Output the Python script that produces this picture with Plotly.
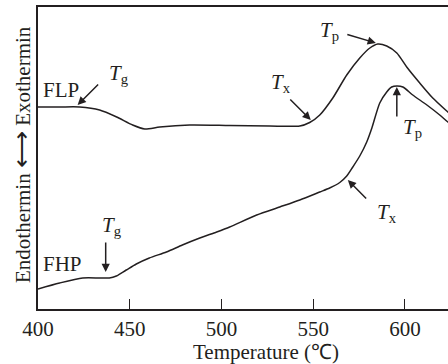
import plotly.graph_objects as go

# DSC curves (temperature in deg C, heat flow in arbitrary units)
flp_temp = [400.0, 411.8, 422.7, 433.6, 442.9, 451.6, 458.2, 466.4, 482.7, 504.5, 526.3, 542.7,
            548.1, 553.6, 560.7, 568.3, 575.4, 580.9, 585.2, 590.1, 595.6, 601.0, 608.1, 615.2, 623.4, 632.0]
flp_heat = [202, 202, 202, 199, 192, 184, 180, 182, 184, 183.5, 183, 183,
            186.5, 194, 211, 234, 251, 261, 265, 263, 256, 242, 226, 211, 197, 183]

fhp_temp = [400.0, 411.8, 424.4, 433.6, 438.9, 442.7, 448.1, 453.6, 460.7, 470.0, 478.7, 488.2,
            497.4, 504.5, 519.2, 531.8, 542.7, 553.6, 559.0, 564.5, 568.3, 571.6, 575.4, 579.2,
            582.0, 586.3, 590.1, 592.8, 595.6, 598.9, 604.3, 612.0, 619.0, 623.4, 632.0]
fhp_heat = [20, 26, 31, 31, 31, 33, 39, 45, 51, 57, 64, 71,
            77, 82, 94, 102, 109, 117, 121, 126.5, 133, 142, 153, 167,
            181, 206, 217, 222, 223, 222, 214, 204, 194, 187, 177]

x_ticks = [400, 450, 500, 550, 600]

INK = "#231f20"
FONT = "Liberation Serif, Times New Roman, serif"
FS = 21

fig = go.Figure()
for t, h in [(flp_temp, flp_heat), (fhp_temp, fhp_heat)]:
    fig.add_trace(go.Scatter(x=t, y=h, mode="lines",
                             line=dict(color=INK, width=1.5, shape="spline", smoothing=0.7),
                             showlegend=False, hoverinfo="skip"))

# labels (text, x, y)
labels = [
    ("FLP", 412.4, 219),
    ("<i>T</i><sub>g</sub>", 444.0, 235),
    ("<i>T</i><sub>x</sub>", 532.3, 226),
    ("<i>T</i><sub>p</sub>", 559.1, 278),
    ("<i>T</i><sub>p</sub>", 604.3, 181),
    ("<i>T</i><sub>x</sub>", 590.1, 96),
    ("FHP", 413.5, 45),
    ("<i>T</i><sub>g</sub>", 440.2, 83),
]
for txt, x, y in labels:
    fig.add_annotation(x=x, y=y, text=txt, showarrow=False, xref="x", yref="y",
                       font=dict(family=FONT, size=FS, color=INK), xanchor="center", yanchor="middle")

# arrows (tail x, tail y, tip x, tip y)
arrows = [
    (433.6, 226, 421.6, 204),
    (536.7, 211, 548.7, 189),
    (567.8, 275, 584.2, 266),
    (595.6, 191, 595.6, 222),
    (579.7, 109, 568.9, 129),
    (436.9, 68, 436.9, 37),
]
for ax, ay, x, y in arrows:
    fig.add_annotation(x=x, y=y, ax=ax, ay=ay, xref="x", yref="y", axref="x", ayref="y",
                       text="", showarrow=True, arrowhead=2, arrowsize=1.1, arrowwidth=1.5,
                       arrowcolor=INK)

fig.add_annotation(text="Endothermin <span style='font-size:26px'>⟷</span> Exothermin",
                   xref="paper", yref="paper", x=0, y=0.5,
                   xshift=-17, yshift=3, textangle=-90, showarrow=False,
                   font=dict(family=FONT, size=FS, color=INK), xanchor="center", yanchor="middle")

fig.add_annotation(text="Temperature (℃)", xref="paper", yref="paper", x=0.556, y=0,
                   yshift=-43, showarrow=False, xanchor="center", yanchor="middle",
                   font=dict(family=FONT, size=FS, color=INK))

fig.update_layout(
    width=448, height=364,
    margin=dict(l=38, r=0, t=7, b=55),
    plot_bgcolor="white", paper_bgcolor="white",
    font=dict(family=FONT, size=FS, color=INK),
    xaxis=dict(range=[400, 623.5], tickvals=x_ticks, ticktext=[str(v) for v in x_ticks],
               ticks="inside", ticklen=10, tickwidth=1.2, tickcolor=INK,
               showline=True, linecolor=INK, linewidth=1.5, mirror=True, showgrid=False, zeroline=False,
               tickfont=dict(family=FONT, size=FS, color=INK)),
    yaxis=dict(range=[0, 302], showticklabels=False, ticks="", showline=True, linecolor=INK, linewidth=1.5,
               showgrid=False, zeroline=False),
)

fig.write_html("out.html")
